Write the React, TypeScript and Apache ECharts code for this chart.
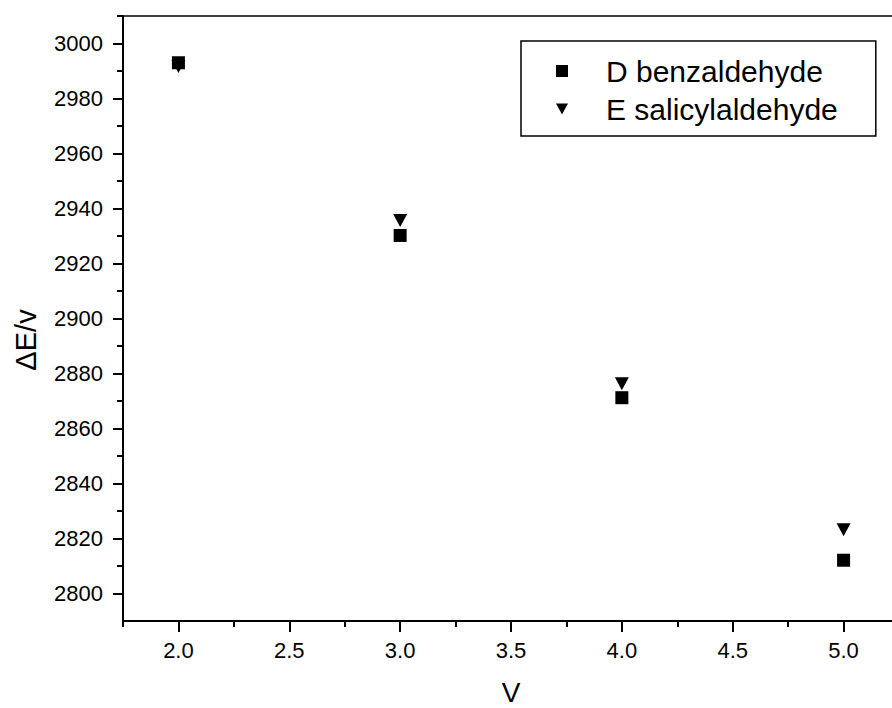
import React, { useEffect, useRef } from "react";
import * as echarts from "echarts";

const xValues = [2.0, 3.0, 4.0, 5.0];
const benzaldehyde = [2993, 2930.2, 2871.2, 2812.1];
const salicylaldehyde = [2991.6, 2935.6, 2876.3, 2823.2];
const seriesNames = ["D benzaldehyde", "E salicylaldehyde"];
const xMajor = [2.0, 2.5, 3.0, 3.5, 4.0, 4.5, 5.0];
const xMinor = [1.75, 2.25, 2.75, 3.25, 3.75, 4.25, 4.75, 5.25];
const yMajor = [2800, 2820, 2840, 2860, 2880, 2900, 2920, 2940, 2960, 2980, 3000];
const yMinor = [2810, 2830, 2850, 2870, 2890, 2910, 2930, 2950, 2970, 2990, 3010];
const xTitle = "V";
const yTitle = "ΔE/v";

const FONT = "'Liberation Sans', Arial, sans-serif";
const TRI = "path://M0,0L14,0L7,13Z";

export default function App() {
  const ref = useRef<HTMLDivElement>(null);
  useEffect(() => {
    if (!ref.current) return;
    const chart = echarts.init(ref.current, null, { renderer: "svg" });
    const axisLine = { show: true, lineStyle: { color: "#000", width: 2 } };
    chart.setOption({
      animation: false,
      backgroundColor: "#fff",
      textStyle: { fontFamily: FONT, color: "#000" },
      grid: {
        left: 123,
        top: 16,
        bottom: 87,
        right: 1,
        containLabel: false,
        outerBoundsMode: "none",
        show: true,
        borderColor: "#000",
        borderWidth: 1.5,
        backgroundColor: "transparent",
      },
      graphic: [
        {
          type: "text",
          x: 26,
          y: 340,
          rotation: Math.PI / 2,
          style: {
            text: yTitle,
            fontSize: 29,
            fontFamily: FONT,
            fill: "#000",
            textAlign: "center",
            textVerticalAlign: "middle",
          },
        },
      ],
      xAxis: [
        {
          type: "value",
          min: 1.75,
          max: 5.25,
          position: "bottom",
          name: xTitle,
          nameLocation: "middle",
          nameGap: 57,
          nameTextStyle: { fontSize: 28, fontFamily: FONT, color: "#000" },
          axisLine,
          splitLine: { show: false },
          axisTick: {
            show: true,
            customValues: xMajor,
            length: 11,
            lineStyle: { color: "#000", width: 2 },
          },
          axisLabel: {
            customValues: xMajor,
            formatter: (v: number) => v.toFixed(1),
            fontSize: 22,
            margin: 18,
            color: "#000",
            fontFamily: FONT,
          },
        },
        {
          type: "value",
          min: 1.75,
          max: 5.25,
          position: "bottom",
          axisLine: { show: false },
          splitLine: { show: false },
          axisTick: {
            show: true,
            customValues: xMinor,
            length: 6,
            lineStyle: { color: "#000", width: 2 },
          },
          axisLabel: { show: false },
        },
      ],
      yAxis: [
        {
          type: "value",
          min: 2790,
          max: 3010,
          position: "left",
          axisLine,
          splitLine: { show: false },
          axisTick: {
            show: true,
            customValues: yMajor,
            length: 10,
            lineStyle: { color: "#000", width: 2 },
          },
          axisLabel: {
            customValues: yMajor,
            formatter: (v: number) => String(v),
            fontSize: 22,
            margin: 20,
            color: "#000",
            fontFamily: FONT,
          },
        },
        {
          type: "value",
          min: 2790,
          max: 3010,
          position: "left",
          axisLine: { show: false },
          splitLine: { show: false },
          axisTick: {
            show: true,
            customValues: yMinor,
            length: 6,
            lineStyle: { color: "#000", width: 2 },
          },
          axisLabel: { show: false },
        },
      ],
      legend: {
        orient: "vertical",
        left: 521,
        top: 41,
        padding: [15, 38, 12, 35],
        borderColor: "#000",
        borderWidth: 1.5,
        borderRadius: 0,
        itemWidth: 12,
        itemHeight: 12,
        itemGap: 8,
        textStyle: {
          fontSize: 30,
          lineHeight: 29,
          fontFamily: FONT,
          color: "#000",
          padding: [0, 0, 0, 33],
        },
        data: [
          { name: seriesNames[0], icon: "rect", itemStyle: { opacity: 1 } },
          { name: seriesNames[1], icon: TRI, itemStyle: { opacity: 1 } },
        ],
      },
      series: [
        {
          name: seriesNames[0],
          type: "scatter",
          symbol: "rect",
          symbolSize: 13,
          itemStyle: { color: "#000", opacity: 1 },
          data: xValues.map((x, i) => [x, benzaldehyde[i]]),
        },
        {
          name: seriesNames[1],
          type: "scatter",
          symbol: TRI,
          symbolSize: [14, 13],
          itemStyle: { color: "#000", opacity: 1 },
          data: xValues.map((x, i) => [x, salicylaldehyde[i]]),
        },
      ],
    });
    return () => chart.dispose();
  }, []);
  return (
    <div
      style={{ position: "fixed", left: 0, top: 0, width: 892, height: 708, overflow: "hidden", background: "#fff" }}
    >
      <div ref={ref} style={{ width: 900, height: 708 }} />
    </div>
  );
}
